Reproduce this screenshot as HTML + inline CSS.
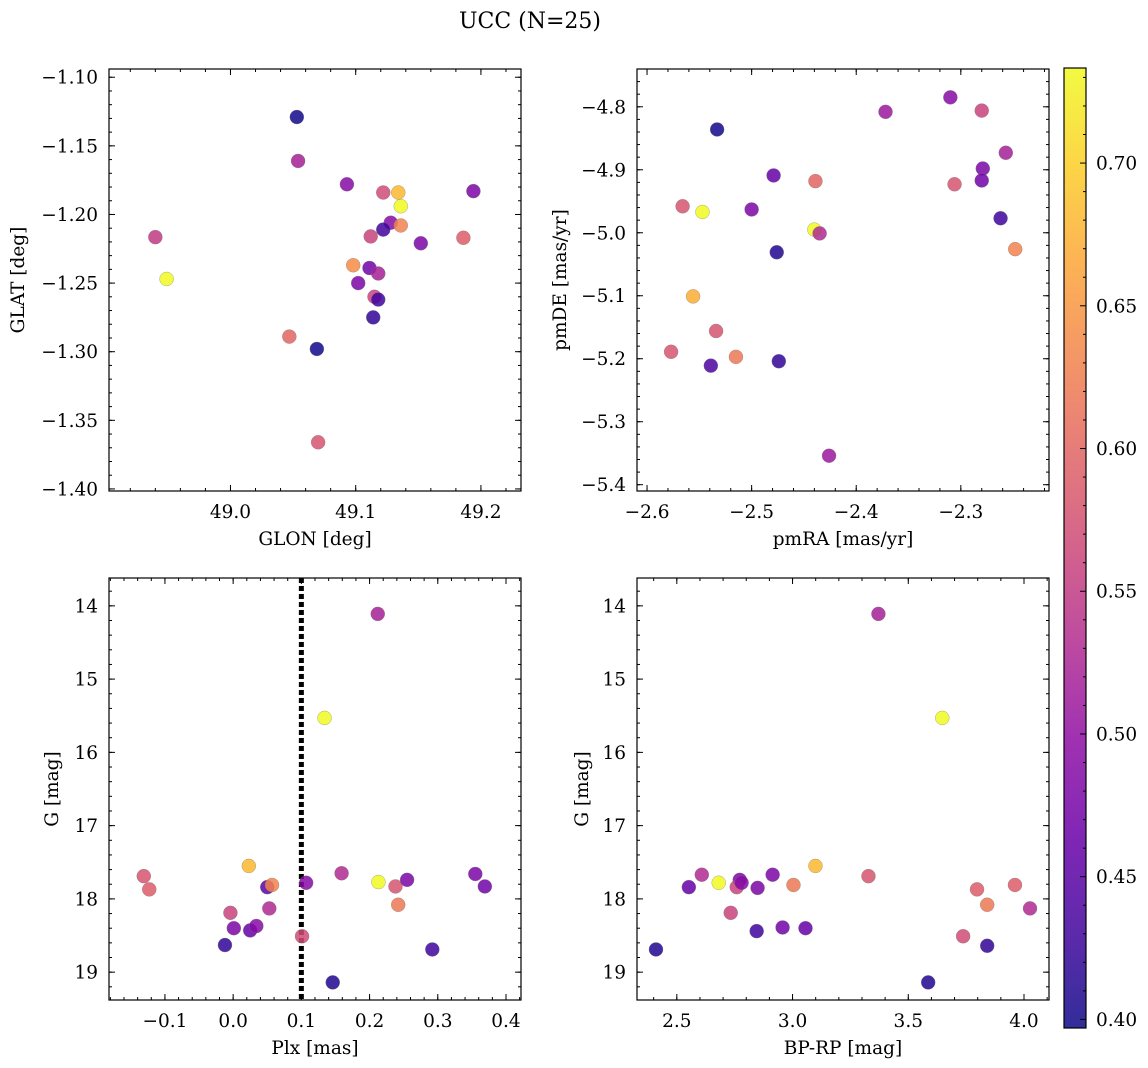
<!DOCTYPE html>
<html><head><meta charset="utf-8"><style>
html,body{margin:0;padding:0;background:#fff}
svg{display:block;font-family:"DejaVu Serif","Liberation Serif",serif}
</style></head><body>
<svg id="fig" width="1148" height="1068" viewBox="0 0 1148 1068">
<text x="530" y="28" font-size="22" text-anchor="middle">UCC (N=25)</text>
</svg>
<script>
// ---- data ----
const glon=[48.940,48.949,49.053,49.054,49.093,49.122,49.134,49.136,49.128,49.122,49.136,49.112,49.152,49.194,49.186,49.098,49.111,49.118,49.102,49.115,49.118,49.114,49.047,49.069,49.070];
const glat=[-1.2165,-1.247,-1.129,-1.161,-1.178,-1.184,-1.184,-1.194,-1.206,-1.211,-1.208,-1.216,-1.221,-1.183,-1.217,-1.237,-1.239,-1.243,-1.250,-1.260,-1.262,-1.275,-1.289,-1.298,-1.366];
const cPos=[0.55,0.74,0.40,0.52,0.49,0.57,0.68,0.74,0.49,0.43,0.63,0.56,0.48,0.48,0.59,0.64,0.47,0.52,0.48,0.56,0.43,0.42,0.60,0.40,0.58];
const pmra=[-2.310,-2.280,-2.372,-2.533,-2.257,-2.279,-2.479,-2.439,-2.306,-2.280,-2.566,-2.547,-2.500,-2.262,-2.440,-2.435,-2.248,-2.476,-2.556,-2.534,-2.515,-2.577,-2.539,-2.474,-2.426];
const pmde=[-4.785,-4.806,-4.808,-4.836,-4.873,-4.898,-4.909,-4.918,-4.923,-4.917,-4.958,-4.967,-4.963,-4.977,-4.995,-5.001,-5.026,-5.031,-5.101,-5.156,-5.197,-5.189,-5.211,-5.204,-5.354];
const cPm=[0.49,0.56,0.51,0.40,0.52,0.48,0.46,0.60,0.58,0.47,0.58,0.74,0.48,0.43,0.74,0.53,0.63,0.41,0.67,0.58,0.62,0.58,0.44,0.42,0.51];
const plx=[0.212,0.134,-0.131,-0.123,0.023,-0.004,0.001,-0.012,0.025,0.034,0.050,0.057,0.053,0.101,0.107,0.159,0.146,0.213,0.238,0.255,0.242,0.292,0.355,0.369];
const gPlx=[14.11,15.53,17.69,17.87,17.55,18.19,18.40,18.63,18.43,18.37,17.84,17.81,18.13,18.51,17.78,17.65,19.14,17.77,17.83,17.74,18.08,18.69,17.66,17.83];
const cPlx=[0.52,0.74,0.58,0.59,0.68,0.56,0.48,0.42,0.46,0.49,0.45,0.63,0.53,0.57,0.49,0.53,0.41,0.74,0.58,0.48,0.62,0.43,0.48,0.47];
const bprp=[3.371,3.647,2.410,2.552,2.608,2.681,2.772,2.759,2.780,2.733,2.849,2.914,2.845,2.957,3.056,3.004,3.099,3.328,3.586,3.737,3.797,3.841,3.841,3.961,4.026];
const gCmd=[14.11,15.53,18.69,17.84,17.67,17.78,17.74,17.84,17.78,18.19,17.85,17.67,18.44,18.39,18.40,17.81,17.55,17.69,19.14,18.51,17.87,18.08,18.64,17.81,18.13];
const cCmd=[0.52,0.74,0.41,0.46,0.53,0.74,0.48,0.56,0.49,0.56,0.48,0.48,0.43,0.47,0.46,0.62,0.68,0.58,0.41,0.57,0.59,0.62,0.42,0.59,0.53];
const plxLine=0.1;
const cbTicks=[0.40,0.45,0.50,0.55,0.60,0.65,0.70];
const VMIN=0.397, VMAX=0.7333;

const FS=18.5;
const NS="http://www.w3.org/2000/svg";
const svg=document.getElementById('fig');
function el(tag,attrs,parent){const e=document.createElementNS(NS,tag);for(const k in attrs)e.setAttribute(k,attrs[k]);(parent||svg).appendChild(e);return e;}
const stops=[[13,8,135],[65,4,157],[106,0,168],[143,13,164],[177,42,144],[204,71,120],[225,100,98],[242,132,75],[252,166,54],[252,206,37],[240,249,33]];
function plasma(t){t=Math.max(0,Math.min(1,t));const f=t*10,i=Math.min(9,Math.floor(f)),r=f-i;const a=stops[i],b=stops[i+1];return `rgb(${a.map((v,k)=>Math.round(v+(b[k]-v)*r)).join(',')})`;}
function fmt(v,d){const s=Math.abs(v).toFixed(d);return (v<-1e-9?'\u2212':'')+s;}

function panel(o){
  const g=el('g',{});
  
  
  const sx=v=>o.L+(v-o.x0)/(o.x1-o.x0)*(o.R-o.L);
  const sy=v=>o.B-(v-o.y0)/(o.y1-o.y0)*(o.B-o.T);
  const tg=el('g',{stroke:'#000','stroke-width':1},g);
  function ticks(a,b,step,fn){const min=Math.min(a,b),max=Math.max(a,b);const n0=Math.ceil(min/step-1e-6),n1=Math.floor(max/step+1e-6);for(let n=n0;n<=n1;n++)fn(n*step);}
  ticks(o.x0,o.x1,o.xminor,v=>{const x=sx(v);el('line',{x1:x,x2:x,y1:o.B,y2:o.B-3},tg);el('line',{x1:x,x2:x,y1:o.T,y2:o.T+3},tg);});
  ticks(o.y0,o.y1,o.yminor,v=>{const y=sy(v);el('line',{x1:o.L,x2:o.L+3,y1:y,y2:y},tg);el('line',{x1:o.R,x2:o.R-3,y1:y,y2:y},tg);});
  ticks(o.x0,o.x1,o.xmajor,v=>{const x=sx(v);el('line',{x1:x,x2:x,y1:o.B,y2:o.B-6},tg);el('line',{x1:x,x2:x,y1:o.T,y2:o.T+6},tg);
    const t=el('text',{x:x,y:o.B+27,'font-size':FS,'text-anchor':'middle'},g);t.textContent=fmt(v,o.xd);
    });
  ticks(o.y0,o.y1,o.ymajor,v=>{const y=sy(v);el('line',{x1:o.L,x2:o.L+6,y1:y,y2:y},tg);el('line',{x1:o.R,x2:o.R-6,y1:y,y2:y},tg);
    const t=el('text',{x:o.L-11,y:y+6.5,'font-size':FS,'text-anchor':'end'},g);t.textContent=fmt(v,o.yd);
    });
  if(o.vline!==undefined){const l=el('line',{x1:sx(o.vline),x2:sx(o.vline),y1:o.T,y2:o.B,stroke:'#000','stroke-width':5,'stroke-dasharray':'5,3'},g);
    }
  o.xs.forEach((xv,i)=>{const c=el('circle',{cx:sx(xv),cy:sy(o.ys[i]),r:7,fill:plasma((o.cs[i]-VMIN)/(VMAX-VMIN)),'fill-opacity':0.85,stroke:'#777','stroke-width':0.5,'stroke-opacity':0.6},g);
    });
  const fr=el('rect',{x:o.L,y:o.T,width:o.R-o.L,height:o.B-o.T,fill:'none',stroke:'#000','stroke-width':1.2},g);
  
  const xl=el('text',{x:(o.L+o.R)/2,y:o.B+54,'font-size':FS,'text-anchor':'middle'},g);xl.textContent=o.xlabel;
  
  const yx=o.ylx,yy=(o.T+o.B)/2;
  const yl=el('text',{x:yx,y:yy,'font-size':FS,'text-anchor':'middle',transform:`rotate(-90 ${yx} ${yy})`},g);yl.textContent=o.ylabel;
  
}
panel({name:'glon-glat-panel',L:109,R:521,T:69,B:491,x0:48.903,x1:49.232,y0:-1.4015,y1:-1.094,xmajor:0.1,xminor:0.02,ymajor:0.05,yminor:0.01,xd:1,yd:2,xs:glon,ys:glat,cs:cPos,xlabel:'GLON [deg]',ylabel:'GLAT [deg]',ylx:24});
panel({name:'proper-motion-panel',L:637,R:1049,T:69,B:491,x0:-2.6096,x1:-2.2157,y0:-5.41,y1:-4.74,xmajor:0.1,xminor:0.02,ymajor:0.1,yminor:0.02,xd:1,yd:1,xs:pmra,ys:pmde,cs:cPm,xlabel:'pmRA [mas/yr]',ylabel:'pmDE [mas/yr]',ylx:566});
panel({name:'plx-g-panel',L:109,R:521,T:578,B:1000,x0:-0.182,x1:0.422,y0:19.38,y1:13.62,xmajor:0.1,xminor:0.02,ymajor:1,yminor:0.2,xd:1,yd:0,xs:plx,ys:gPlx,cs:cPlx,xlabel:'Plx [mas]',ylabel:'G [mag]',ylx:58,vline:plxLine});
panel({name:'cmd-panel',L:637,R:1049,T:578,B:1000,x0:2.328,x1:4.108,y0:19.38,y1:13.62,xmajor:0.5,xminor:0.1,ymajor:1,yminor:0.2,xd:1,yd:0,xs:bprp,ys:gCmd,cs:cCmd,xlabel:'BP-RP [mag]',ylabel:'G [mag]',ylx:588});

// colorbar
const cb=el('g',{});


const CT=68,CB=1028,CL=1064,CR=1086;
const defs=el('defs',{},cb);
const grad=el('linearGradient',{id:'cbg',x1:0,y1:1,x2:0,y2:0},defs);
for(let i=0;i<=20;i++)el('stop',{offset:i/20,'stop-color':plasma(i/20),'stop-opacity':0.85},grad);
el('rect',{x:CL,y:CT,width:CR-CL,height:CB-CT,fill:'url(#cbg)',stroke:'#000','stroke-width':1.2},cb);
const cy=v=>CB-(v-VMIN)/(VMAX-VMIN)*(CB-CT);
for(let n=40;n<=73;n++){const y=cy(n/100);el('line',{x1:CR,x2:CR-(n%5===0?6:3),y1:y,y2:y,stroke:'#000','stroke-width':1},cb);}
cbTicks.forEach(v=>{const t=el('text',{x:CR+10,y:cy(v)+6.5,'font-size':FS},cb);t.textContent=v.toFixed(2);
  });
</script>
</body></html>
